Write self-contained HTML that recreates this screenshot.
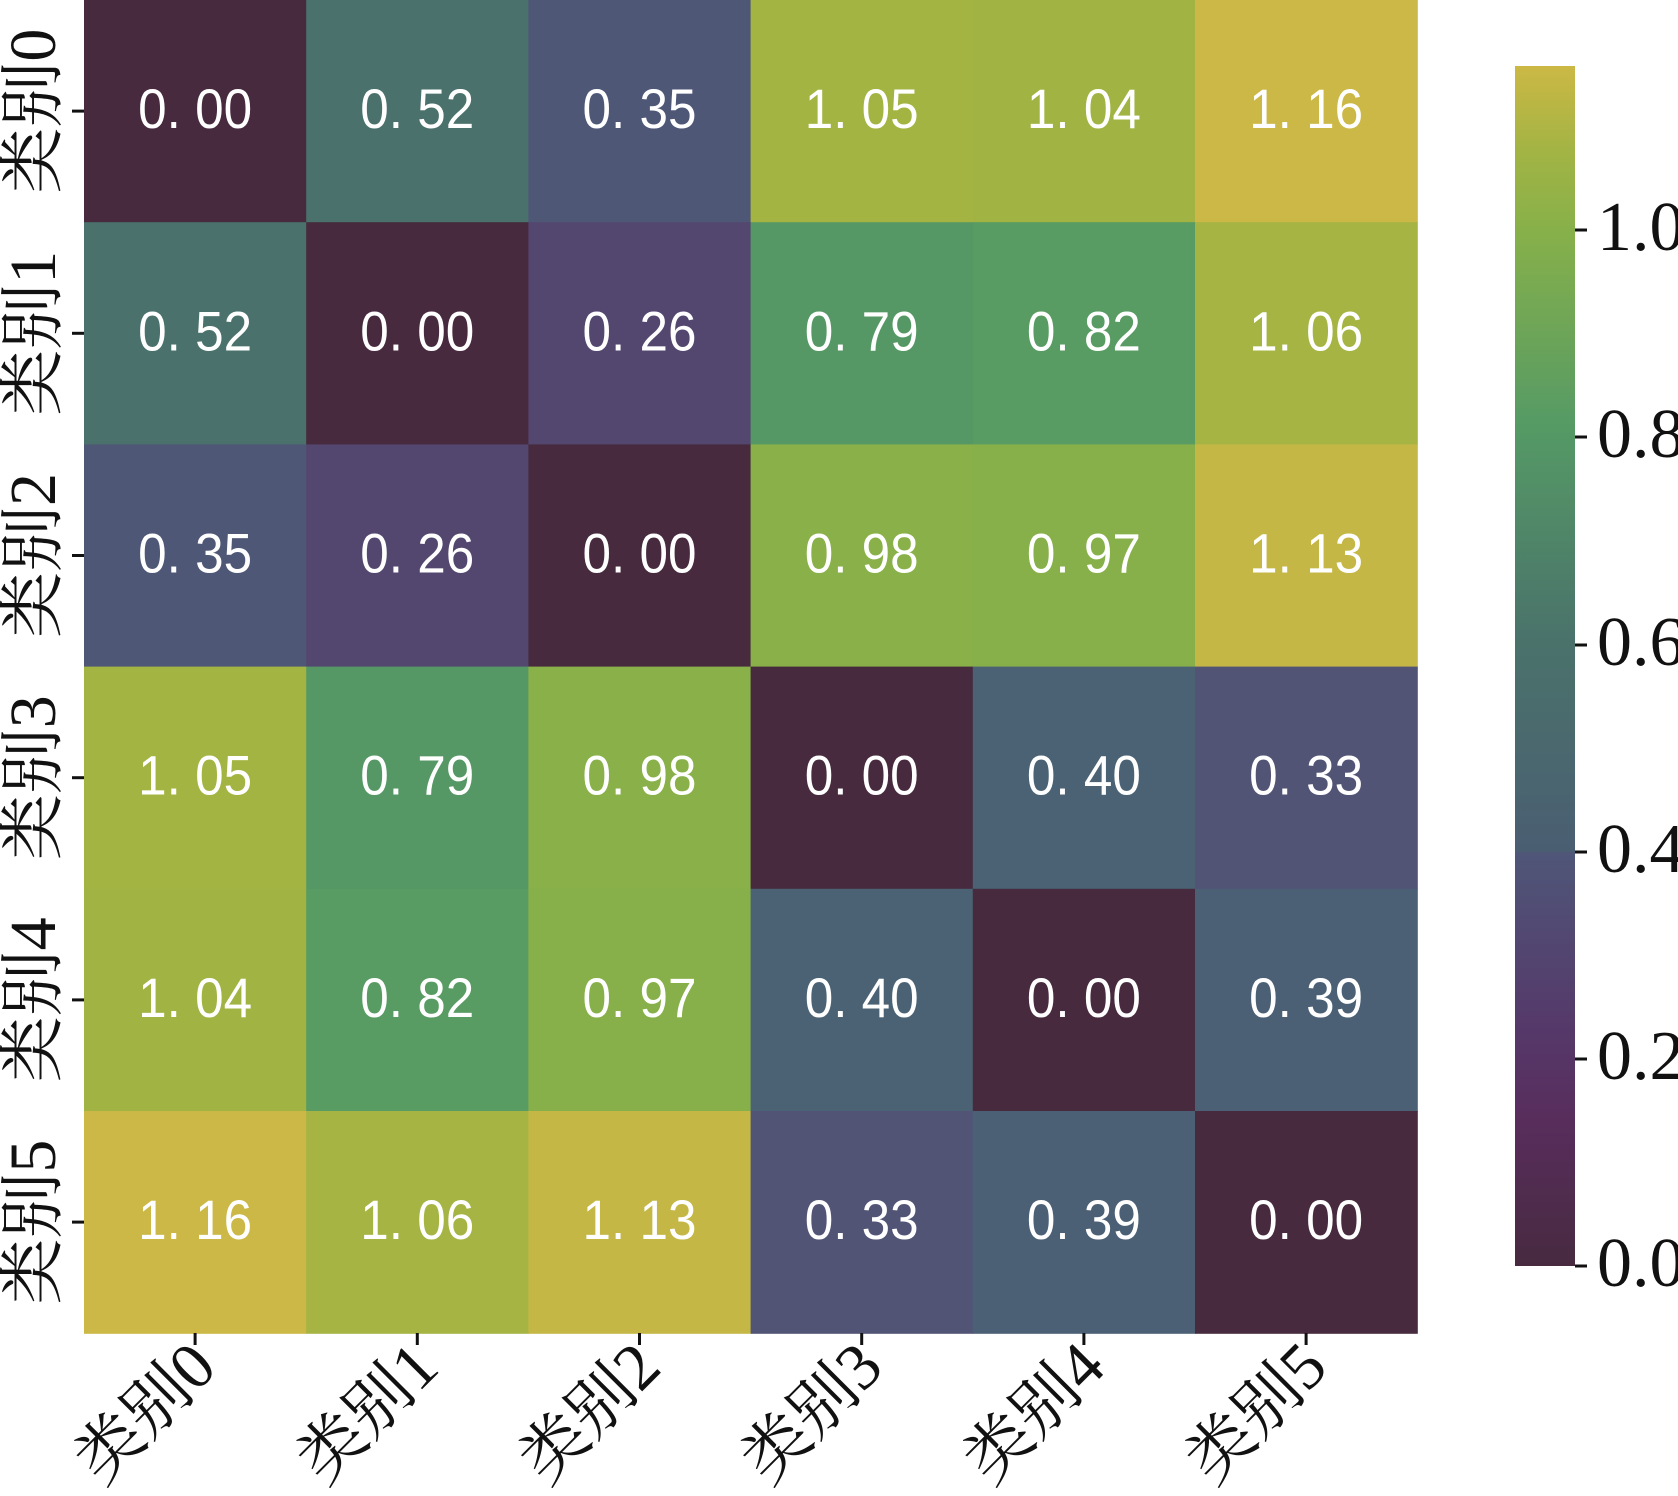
<!DOCTYPE html>
<html><head><meta charset="utf-8"><style>
html,body{margin:0;padding:0;background:#fff;}
svg{display:block;}
.ann{font-family:"Liberation Sans",sans-serif;font-size:56px;fill:#fff;}
.lab{font-family:"Liberation Serif","Noto Serif CJK SC",serif;font-size:66px;fill:#111;}
.cb{font-family:"Liberation Serif",serif;font-size:70px;fill:#111;}
</style></head><body>
<svg width="1678" height="1496" viewBox="0 0 1678 1496" xmlns="http://www.w3.org/2000/svg">
<defs>
<linearGradient id="g" x1="0" y1="1" x2="0" y2="0">
<stop offset="0" stop-color="#472a40"/>
<stop offset="0.12" stop-color="#582d5c"/>
<stop offset="0.2" stop-color="#55396a"/>
<stop offset="0.345" stop-color="#4f5678"/>
<stop offset="0.345" stop-color="#4a5e72"/>
<stop offset="0.52" stop-color="#4a726b"/>
<stop offset="0.7" stop-color="#559a65"/>
<stop offset="0.86" stop-color="#86b04a"/>
<stop offset="0.93" stop-color="#a3b444"/>
<stop offset="1" stop-color="#ccb845"/>
</linearGradient>
</defs>
<g id="cells"></g>
<rect x="1515" y="66" width="60" height="1200" fill="url(#g)"/>
<g stroke="#111" stroke-width="3">
<line x1="1575" y1="1266" x2="1587" y2="1266"/>
<line x1="1575" y1="1059" x2="1587" y2="1059"/>
<line x1="1575" y1="852" x2="1587" y2="852"/>
<line x1="1575" y1="645" x2="1587" y2="645"/>
<line x1="1575" y1="437" x2="1587" y2="437"/>
<line x1="1575" y1="230" x2="1587" y2="230"/>
</g>
<g class="cb">
<text x="1597" y="1286">0.0</text>
<text x="1597" y="1079">0.2</text>
<text x="1597" y="872">0.4</text>
<text x="1597" y="665">0.6</text>
<text x="1597" y="457">0.8</text>
<text x="1597" y="250">1.0</text>
</g>
</svg>
<script>
var vals=[[0,.52,.35,1.05,1.04,1.16],[.52,0,.26,.79,.82,1.06],[.35,.26,0,.98,.97,1.13],[1.05,.79,.98,0,.40,.33],[1.04,.82,.97,.40,0,.39],[1.16,1.06,1.13,.33,.39,0]];
function col(v){var t=[[0,'#472a3e'],[.26,'#53476f'],[.33,'#515475'],[.35,'#4f5777'],[.39,'#4b6075'],[.40,'#4a6274'],[.52,'#4a716b'],[.79,'#569865'],[.82,'#589b63'],[.97,'#88b04a'],[.98,'#89b049'],[1.04,'#a1b443'],[1.05,'#a4b443'],[1.06,'#a6b443'],[1.13,'#c4b745'],[1.16,'#ccb846']];for(var i=0;i<t.length;i++)if(Math.abs(t[i][0]-v)<.005)return t[i][1];return '#000';}
var g=document.getElementById('cells'),s='';
var x0=84,y0=0,c=222.2;
for(var r=0;r<6;r++)for(var k=0;k<6;k++){var v=vals[r][k];
s+='<rect x="'+(x0+k*c)+'" y="'+(y0+r*c)+'" width="'+(c+0.6)+'" height="'+(c+0.6)+'" fill="'+col(v)+'"/>';
s+='<text class="ann" x="'+(x0+k*c+c/2)+'" y="'+(y0+r*c+c/2+17)+'" text-anchor="middle" textLength="114" lengthAdjust="spacingAndGlyphs">'+v.toFixed(2).replace('.','. ')+'</text>';}
for(var i=0;i<6;i++){var cx=x0+i*c+c/2,cy=y0+i*c+c/2;
s+='<line x1="'+(x0-12)+'" y1="'+cy+'" x2="'+x0+'" y2="'+cy+'" stroke="#111" stroke-width="3"/>';
s+='<text class="lab" transform="translate(55,'+cy+') rotate(-90)" text-anchor="middle">类别'+i+'</text>';
s+='<line x1="'+cx+'" y1="1333" x2="'+cx+'" y2="1345" stroke="#111" stroke-width="3"/>';
s+='<text class="lab" transform="translate('+(cx+24)+',1370) rotate(-45)" text-anchor="end">类别'+i+'</text>';}
g.innerHTML=s;
</script>
</body></html>
